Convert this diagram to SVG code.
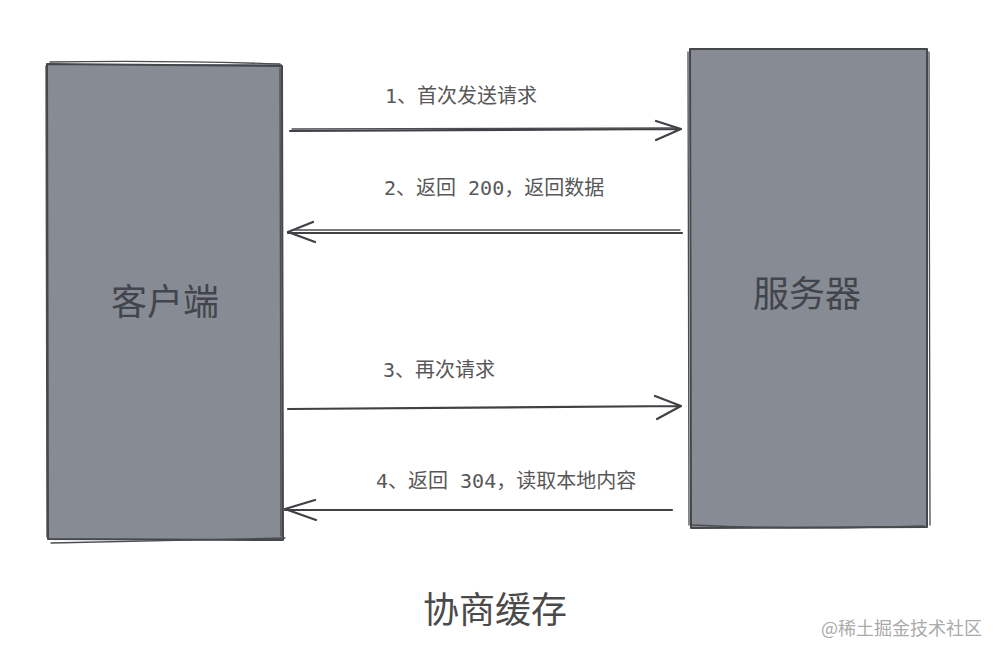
<svg xmlns="http://www.w3.org/2000/svg" width="1000" height="658" viewBox="0 0 1000 658">
<style>
.box{fill:#868b94;stroke:none}
.edge{fill:none;stroke:#45474b;stroke-width:2;stroke-linecap:round;stroke-linejoin:round}
.thin{fill:none;stroke:#4a4c50;stroke-width:1.3;stroke-linecap:round}
.lbl{font-family:"DejaVu Sans Mono","Noto Sans CJK SC",monospace;font-size:20px;fill:#585858}
.big{font-family:"Noto Sans CJK SC",sans-serif;font-size:36px;fill:#42454b;text-anchor:middle}
.conn{fill:none;stroke:#3f4145;stroke-width:2.2;stroke-linecap:round;stroke-linejoin:round}
</style>
<rect width="1000" height="658" fill="#fff"/>
<g id="client">
<rect class="box" x="48" y="64" width="234" height="476"/>
<path class="edge" d="M47 64 L282 66 L283 540 L48 539 Z"/>
<path class="thin" d="M50 62 Q160 60 280 64 M51 543 Q150 541 285 538 M46 66 L47 537 M280 68 L281 536"/>
<text class="big" x="165" y="315">客户端</text>
</g>
<g id="server">
<rect class="box" x="691" y="50" width="236" height="477"/>
<path class="edge" d="M690 49 L927 49 L927 527 L691 528 Z"/>
<path class="thin" d="M692 525 Q800 530 924 526 M929 52 L930 525 M688 52 L689 525"/>
<text class="big" x="807" y="307">服务器</text>
</g>
<g id="connectors">
<path class="conn" d="M290 131 L680 129 M656 121 L681 129 L656 140"/>
<path class="thin" d="M292 129 L675 128"/>
<path class="conn" d="M682 233 L288 233 M313 222 L288 232 L315 242"/>
<path class="thin" d="M680 230 L292 230"/>
<path class="conn" d="M288 409 L681 406 M655 396 L681 406 L657 419"/>
<path class="conn" d="M672 510 L285 510 M315 500 L285 509 L316 520"/>
</g>
<g id="labels">
<text class="lbl" x="385" y="103">1、首次发送请求</text>
<text class="lbl" x="384" y="195">2、返回 200，返回数据</text>
<text class="lbl" x="383" y="377">3、再次请求</text>
<text class="lbl" x="376" y="488">4、返回 304，读取本地内容</text>
</g>
<g id="title">
<text class="big" x="495" y="623" style="fill:#4a4a4a">协商缓存</text>
</g>
<text x="982" y="635" text-anchor="end" font-family="Noto Sans CJK SC, sans-serif" font-size="18" fill="#aaa">@稀土掘金技术社区</text>
</svg>
